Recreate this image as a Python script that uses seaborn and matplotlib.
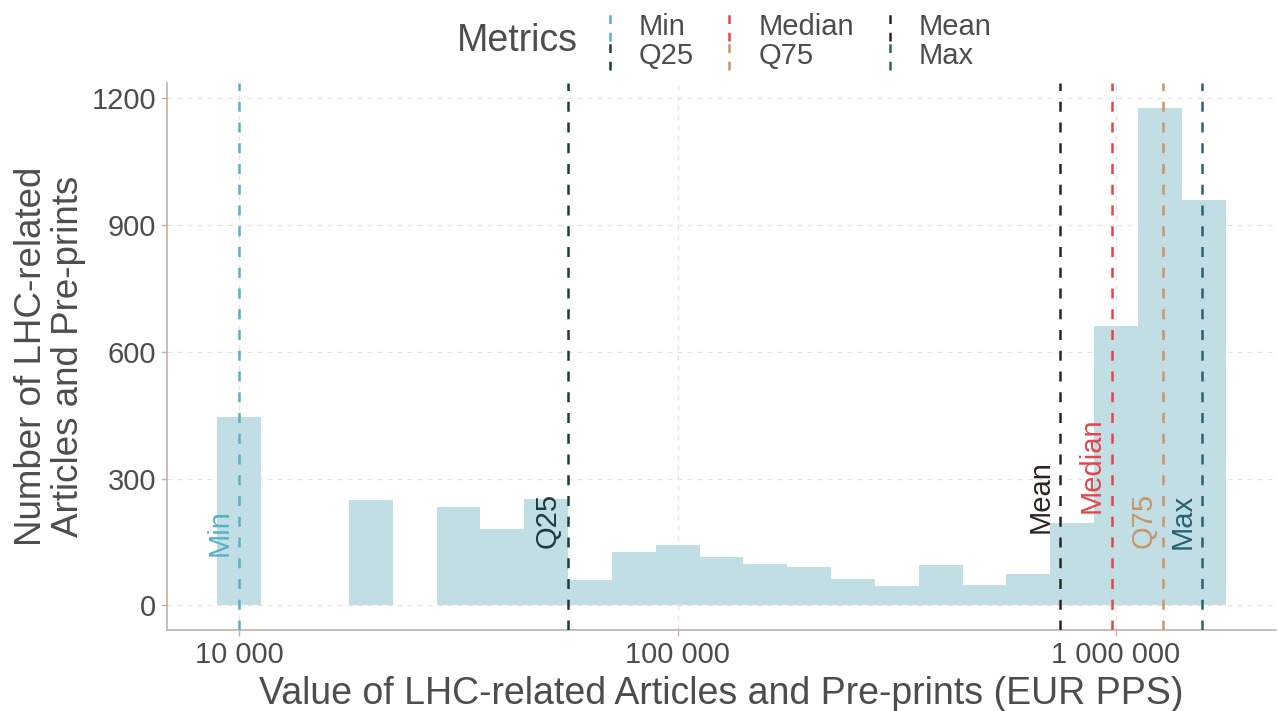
import numpy as np
import pandas as pd
import seaborn as sns
import matplotlib.pyplot as plt
from matplotlib.lines import Line2D
from matplotlib.legend_handler import HandlerBase

# histogram bins (EUR PPS, bin centres on log10 scale, width 0.1 decade)
bin_centres = [10000, 12589, 15849, 19953, 25119, 31623, 39811, 50119,
               63096, 79433, 100000, 125893, 158489, 199526, 251189, 316228,
               398107, 501187, 630957, 794328, 1000000, 1258925, 1584893]
counts = [445, 0, 0, 250, 0, 232, 182, 251,
          61, 126, 142, 114, 98, 91, 63, 47,
          95, 49, 75, 196, 660, 1176, 958]

# summary statistics
metric_names = ["Min", "Q25", "Median", "Q75", "Mean", "Max"]
metric_values = [10000, 56100, 977000, 1283000, 747000, 1575000]
metric_colors = ["#5aafc6", "#1c3a40", "#e8434a", "#c9956a", "#2d241e", "#2a6272"]
label_y = [172, 201, 331, 201, 257, 198]

x_ticks = [10000, 100000, 1000000]
x_tick_labels = ["10 000", "100 000", "1 000 000"]
y_ticks = [0, 300, 600, 900, 1200]

df = pd.DataFrame({"value": bin_centres, "n": counts})

sns.set_style("white")
plt.rcParams['font.family'] = ['Liberation Sans', 'DejaVu Sans']
text_col = "#4d4d4d"
axis_col = "#c2b3a8"
grid_col = "#ebe2da"

fig = plt.figure(figsize=(12.78, 7.11), dpi=100)
ax = fig.add_axes([0.1307, 0.1139, 0.8677, 0.7694])

sns.histplot(data=df, x="value", weights="n", log_scale=True,
             binwidth=0.1, binrange=(3.95, 6.25),
             color="#c2dee5", alpha=1, edgecolor="none", linewidth=0, ax=ax)

dash = (0, (4.0, 4.3))
for name, val, col, ly in zip(metric_names, metric_values, metric_colors, label_y):
    ax.axvline(val, color=col, lw=1.8, ls=dash, zorder=3)
    ax.annotate(name, xy=(val, ly), xytext=(-14.5, 0), textcoords="offset points",
                rotation=90, ha="center", va="center", fontsize=21, color=col)

ax.set_xlim(10 ** 3.835, 10 ** 6.365)
ax.set_ylim(-58, 1236)
ax.set_xticks(x_ticks)
ax.set_xticklabels(x_tick_labels)
ax.minorticks_off()
ax.set_yticks(y_ticks)
ax.tick_params(axis="both", colors=axis_col, labelcolor=text_col, labelsize=21,
               length=4, width=1, left=True, bottom=True, pad=4)
ax.grid(True, color=grid_col, ls=(0, (4, 4)), lw=0.9, zorder=0)
ax.set_axisbelow(True)
for s in ["top", "right"]:
    ax.spines[s].set_visible(False)
for s in ["left", "bottom"]:
    ax.spines[s].set_color(axis_col)
    ax.spines[s].set_linewidth(1.2)

ax.set_xlabel("Value of LHC-related Articles and Pre-prints (EUR PPS)",
              fontsize=27, color=text_col, labelpad=5)
ax.set_ylabel("Number of LHC-related\nArticles and Pre-prints",
              fontsize=26.5, color=text_col, labelpad=4, linespacing=1.05)


class VLineHandler(HandlerBase):
    def create_artists(self, legend, orig_handle, xdescent, ydescent,
                       width, height, fontsize, trans):
        xc = width / 2 - xdescent
        line = Line2D([xc, xc], [-ydescent - 0.3 * height, height * 1.3 - ydescent],
                      color=orig_handle.get_color(), lw=1.8, ls=(0, (3.5, 3.5)),
                      transform=trans)
        return [line]


handles = [Line2D([], [], color=c) for c in metric_colors]
fig.legend(handles, metric_names, ncol=3, loc="center",
           bbox_to_anchor=(0.622, 0.942), frameon=False, fontsize=21,
           labelcolor=text_col, handlelength=0.8, handletextpad=0.6,
           labelspacing=0.05, columnspacing=0.82,
           handler_map={Line2D: VLineHandler()})
fig.text(0.405, 0.942, "Metrics", fontsize=27, color=text_col,
         ha="center", va="center")

fig.savefig("out.png", dpi=100)
